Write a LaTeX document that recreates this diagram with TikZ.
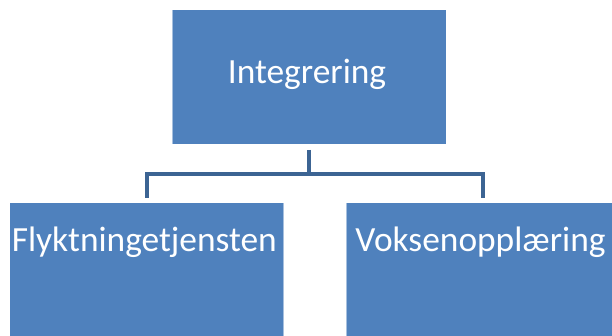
\documentclass[tikz,border=0pt]{standalone}
\usepackage{fontspec}
\setmainfont{Carlito}
\definecolor{boxblue}{HTML}{4F81BD}
\definecolor{connblue}{HTML}{3C6493}
\begin{document}
\begin{tikzpicture}[x=1pt,y=-1pt,
  orgbox/.style={rectangle, fill=boxblue, draw=white, draw opacity=0.5, line width=0.8pt,
    minimum width=274pt, minimum height=134.7pt, inner sep=0pt, anchor=north west},
  orgtext/.style={text=white, anchor=base, inner sep=0pt, font=\fontsize{35.4}{42}\selectfont},
  conn/.style={draw=connblue, line width=4pt, line join=miter}]
\useasboundingbox (0,0) rectangle (612,336);
\clip (0,0) rectangle (612,336);
\fill[white] (0,0) rectangle (612,336);
\node[orgbox] (top) at (171.7,9.3) {};
\node[orgbox] (left) at (9.3,202.3) {};
\node[orgbox] (right) at (345.7,202.3) {};
\node[orgtext] (ttop) at (307,83.3) {Integrering};
\node[orgtext] (tleft) at (144.3,251.7) {Flyktningetjensten};
\node[orgtext] (tright) at (480.5,251.7) {Voksenopplæring};
\coordinate (j) at ([yshift=-29pt]top.south);
\draw[conn] ([yshift=-5pt]top.south) -- (j);
\draw[conn] (j) -| ([yshift=4pt]left.north);
\draw[conn] (j) -| ([yshift=4pt]right.north);
\end{tikzpicture}
\end{document}
